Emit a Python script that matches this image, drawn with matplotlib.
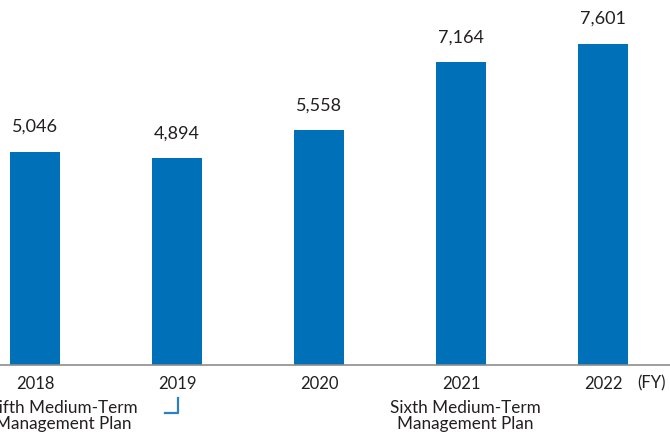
import matplotlib
matplotlib.use("Agg")
import matplotlib.pyplot as plt

plt.rcParams['font.family'] = ['Lato', 'DejaVu Sans']

years = ['2018', '2019', '2020', '2021', '2022']
values = [5046, 4894, 5558, 7164, 7601]

bar_color = '#0071b9'
text_color = '#231f20'

fig = plt.figure(figsize=(6.7, 4.34), dpi=100)
ax = fig.add_axes([0, 69 / 434, 1, 365 / 434])

x = list(range(len(years)))
ax.bar(x, values, width=50 / 142, color=bar_color, zorder=2)

for xi, v in zip(x, values):
    ax.text(xi, v + 400, f'{v:,}', ha='center', va='bottom',
            fontsize=13, color=text_color)

ax.set_xlim(-35 / 142, 635 / 142)
ax.set_ylim(0, 8643)

for s in ['top', 'right', 'left']:
    ax.spines[s].set_visible(False)
ax.spines['bottom'].set_color('#8c8c8c')
ax.spines['bottom'].set_linewidth(1.2)
ax.set_yticks([])
ax.set_xticks(x)
ax.set_xticklabels(years, fontsize=12, color=text_color)
ax.tick_params(axis='x', length=0, pad=8)

# (FY) label
fig.text(652 / 670, 1 - 383 / 434, '(FY)', ha='center', va='center',
         fontsize=12, color=text_color)

# plan labels
fig.text(63 / 670, 1 - 416 / 434, 'Fifth Medium-Term\nManagement Plan',
         ha='center', va='center', fontsize=12.3, color=text_color,
         linespacing=1.0)
fig.text(465 / 670, 1 - 416 / 434, 'Sixth Medium-Term\nManagement Plan',
         ha='center', va='center', fontsize=12.3, color=text_color,
         linespacing=1.0)

# bracket closing the fifth plan period
fig.add_artist(plt.Line2D([165 / 670, 178 / 670, 178 / 670],
                          [1 - 413 / 434, 1 - 413 / 434, 1 - 398 / 434],
                          color='#2a80c4', lw=1.6, transform=fig.transFigure))

fig.savefig('out.png', dpi=100)
